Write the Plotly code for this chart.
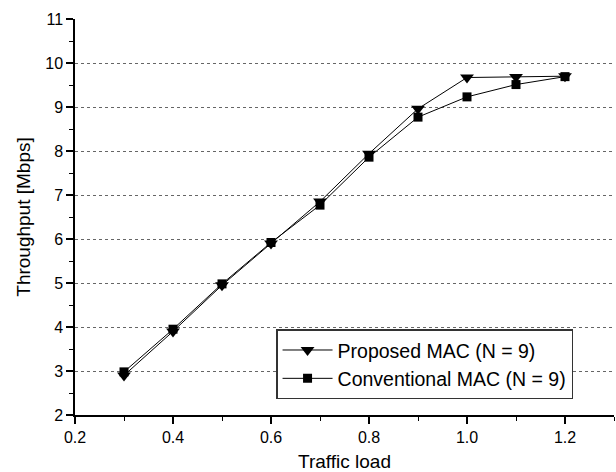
import plotly.graph_objects as go

traffic_load = [0.3, 0.4, 0.5, 0.6, 0.7, 0.8, 0.9, 1.0, 1.1, 1.2]
proposed_mac = [2.9, 3.9, 4.95, 5.9, 6.85, 7.94, 8.96, 9.67, 9.68, 9.7]
conventional_mac = [2.98, 3.95, 4.98, 5.92, 6.77, 7.86, 8.77, 9.23, 9.51, 9.69]
x_ticks = [0.2, 0.4, 0.6, 0.8, 1.0, 1.2]
x_tick_labels = ["0.2", "0.4", "0.6", "0.8", "1.0", "1.2"]
y_ticks = [2, 3, 4, 5, 6, 7, 8, 9, 10, 11]
y_grid = [3, 4, 5, 6, 7, 8, 9, 10]

font = "Liberation Sans, Arial, sans-serif"

fig = go.Figure()
fig.add_trace(go.Scatter(
    x=traffic_load, y=proposed_mac, mode="lines+markers",
    name="Proposed MAC (N = 9)",
    line=dict(color="black", width=1),
    marker=dict(symbol="triangle-down", size=12, color="black"),
))
fig.add_trace(go.Scatter(
    x=traffic_load, y=conventional_mac, mode="lines+markers",
    name="Conventional MAC (N = 9)",
    line=dict(color="black", width=1),
    marker=dict(symbol="square", size=9, color="black"),
))
# invisible trace on grid axis
fig.add_trace(go.Scatter(x=[0.2], y=[2], yaxis="y2", mode="markers",
                         marker=dict(opacity=0), showlegend=False, hoverinfo="skip"))

fig.update_layout(
    width=616, height=472,
    margin=dict(l=75, r=2, t=19, b=57),
    paper_bgcolor="white", plot_bgcolor="white",
    font=dict(family=font, size=16, color="black"),
    showlegend=True,
    legend=dict(
        x=0.373, y=0.128, xanchor="left", yanchor="middle",
        bgcolor="white", bordercolor="#333333", borderwidth=1.5,
        font=dict(family=font, size=19.5, color="black"),
        tracegroupgap=0, itemsizing="trace", itemwidth=50,
    ),
    xaxis=dict(
        range=[0.2, 1.3], tickvals=x_ticks, ticktext=x_tick_labels,
        showgrid=False, zeroline=False, automargin=False,
        showline=True, linecolor="black", linewidth=1.5,
        ticks="outside", ticklen=7, tickwidth=1.5, tickcolor="black",
        minor=dict(dtick=0.1, tick0=0.2, ticks="outside", ticklen=4, tickwidth=1, tickcolor="black", showgrid=False),
        tickfont=dict(size=16),
        title=dict(text="Traffic load", font=dict(size=19), standoff=11),
    ),
    yaxis=dict(
        range=[2, 11], tickvals=y_ticks,
        showgrid=False, zeroline=False, automargin=False,
        showline=True, linecolor="black", linewidth=1.5,
        ticks="outside", ticklen=7, tickwidth=1.5, tickcolor="black",
        minor=dict(dtick=0.5, tick0=2, ticks="outside", ticklen=4, tickwidth=1, tickcolor="black", showgrid=False),
        tickfont=dict(size=16),
        title=dict(text="Throughput [Mbps]", font=dict(size=19), standoff=10),
    ),
    yaxis2=dict(
        range=[2, 11], overlaying="y", tickvals=y_grid, showticklabels=False,
        showgrid=True, gridcolor="#666666", gridwidth=1, griddash="dot",
        zeroline=False, showline=False, ticks="", automargin=False,
    ),
)

fig.write_html("out.html", config={"displayModeBar": False},
               post_script="document.body.style.margin='0';document.body.style.overflow='hidden';")
